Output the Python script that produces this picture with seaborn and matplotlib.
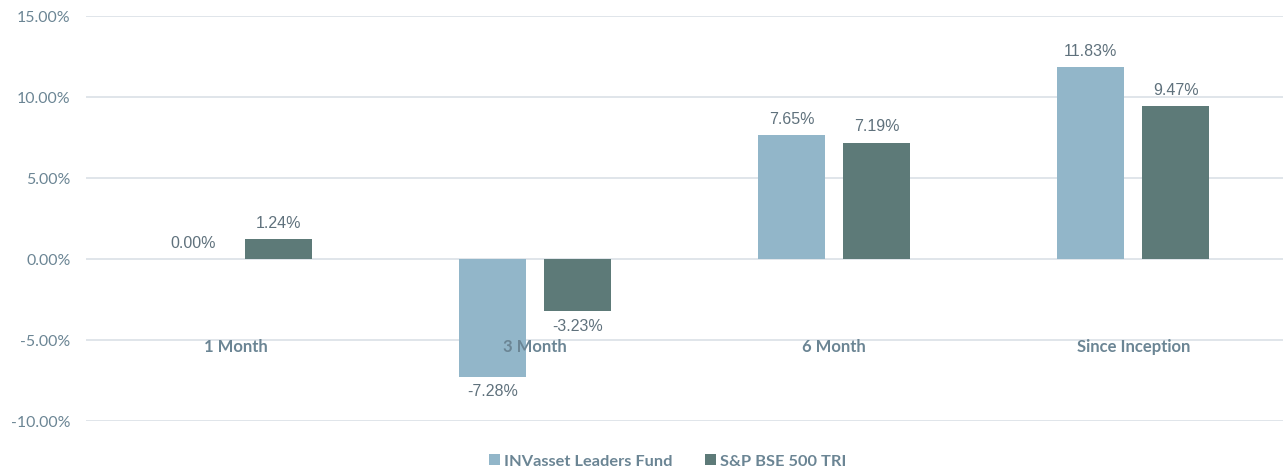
import matplotlib
matplotlib.use("Agg")
import matplotlib.pyplot as plt
import pandas as pd
import seaborn as sns

# data
periods = ["1 Month", "3 Month", "6 Month", "Since Inception"]
fund = [0.00, -7.28, 7.65, 11.83]
index = [1.24, -3.23, 7.19, 9.47]
series_names = ["INVasset Leaders Fund", "S&P BSE 500 TRI"]
yticks = [-10, -5, 0, 5, 10, 15]

colors = ["#92b6c9", "#5d7a78"]
label_col = "#6b8594"
value_col = "#5f717c"

df = pd.DataFrame({
    "period": periods * 2,
    "value": fund + index,
    "series": [series_names[0]] * len(periods) + [series_names[1]] * len(periods),
})

sns.set_style("white")
plt.rcParams['font.family'] = ['Lato', 'DejaVu Sans']

fig = plt.figure(figsize=(12.83, 4.71), dpi=100)
ax = fig.add_axes([0.067, 0.106, 0.933, 0.860])

sns.barplot(data=df, x="period", y="value", hue="series", palette=colors,
            width=0.568, gap=0.21, saturation=1, linewidth=0, ax=ax, legend=True)

ax.set_ylim(-10, 15)
ax.set_xlim(-0.5, 3.5)
ax.set_yticks(yticks)
ax.set_yticklabels([f"{t:.2f}%" for t in yticks], fontsize=11.4, color=label_col)
ax.tick_params(axis="y", length=0, pad=11)
ax.set_xticks([])
ax.set_xlabel("")
ax.set_ylabel("")
for s in ax.spines.values():
    s.set_visible(False)
for t in yticks:
    ax.axhline(t, color="#dde3e8", lw=1.3, zorder=0)

# category labels sit inside the plot, just under the -5% line
for i, p in enumerate(periods):
    ax.text(i, -5.45, p, ha="center", va="center", fontsize=12,
            fontweight="bold", color=label_col)

# value labels
for cont in ax.containers:
    for bar in cont:
        h = bar.get_height()
        x = bar.get_x() + bar.get_width() / 2
        if h >= 0:
            ax.text(x, h + 0.5, f"{h:.2f}%", ha="center", va="bottom",
                    fontsize=11.5, color=value_col, family="Liberation Sans")
        else:
            ax.text(x, h - 0.45, f"{h:.2f}%", ha="center", va="top",
                    fontsize=11.5, color=value_col, family="Liberation Sans")

handles, labels = ax.get_legend_handles_labels()
ax.legend(handles, labels, loc="center", bbox_to_anchor=(0.486, -0.10),
          ncol=2, frameon=False, handlelength=0.65, handleheight=0.65,
          handletextpad=0.25, columnspacing=2.0,
          prop={"weight": "bold", "size": 11.8, "family": "Lato"},
          labelcolor=label_col)

fig.savefig("out.png", dpi=100)
